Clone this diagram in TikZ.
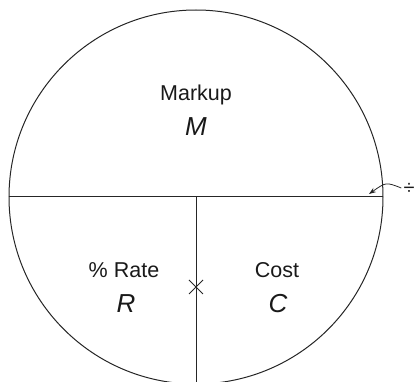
\documentclass[tikz,border=0pt]{standalone}
\usepackage{fontspec}
\setmainfont{Liberation Sans}
\usetikzlibrary{arrows.meta,calc}
\begin{document}
\begin{tikzpicture}[x=1pt,y=-1pt,
  ln/.style={draw=black!85, line width=1pt},
  lbl/.style={anchor=base, inner sep=0pt, font=\fontsize{21.5}{24}\selectfont, text=black!90},
  var/.style={anchor=base, inner sep=0pt, font=\fontsize{26}{28}\selectfont\itshape, text=black!90}]
\useasboundingbox (0,0) rectangle (416,382);
\clip (0,0) rectangle (416,382);
\coordinate (O) at (196,197);
\coordinate (L) at (9,197);
\coordinate (Rt) at (383,197);
\coordinate (B) at (196,390);
\draw[ln] (O) circle[radius=187];
\draw[ln] (L) -- (Rt);
\draw[ln] (O) -- (B);
\coordinate (X) at (196,287);
\draw[ln] ($(X)+(-7,-7)$) -- ($(X)+(7,7)$);
\draw[ln] ($(X)+(-7,7)$) -- ($(X)+(7,-7)$);
\node[lbl] (markup) at (196,101) {Markup};
\node[var] (m) at (196,136) {M};
\node[lbl] (rate) at (124,278) {\% Rate};
\node[var] (r) at (126,313) {R};
\node[lbl] (cost) at (277,278) {Cost};
\node[var] (c) at (278,313) {C};
\node[inner sep=0pt, font=\fontsize{20}{22}\selectfont, text=black!90] (div) at (409,189) {÷};
\coordinate (tip) at (369,194);
\draw[black!85, line width=0.8pt, -{Stealth[length=7pt,width=5pt]}] ($(div.west)+(-2,-1)$) .. controls (386,182) .. (tip);
\end{tikzpicture}
\end{document}
